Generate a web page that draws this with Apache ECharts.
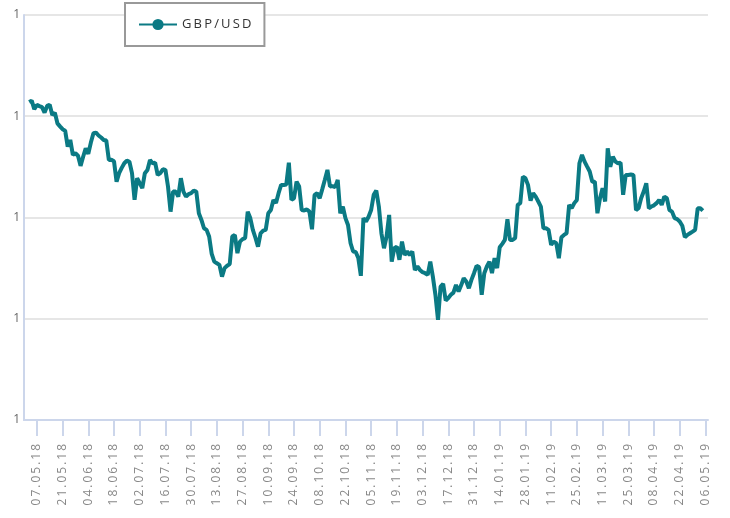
<!DOCTYPE html>
<html>
<head>
<meta charset="utf-8">
<script src="https://cdn.jsdelivr.net/npm/echarts@6/dist/echarts.min.js"></script>
<style>
  html, body { margin: 0; padding: 0; background: #fff; }
  #chart { width: 730px; height: 518px; }
</style>
</head>
<body>
<div id="chart"></div>
<script>
// weekday categories, 30.04.18 .. 07.05.19
const startDay = new Date(2018, 3, 30)
const dayCount = 267
// GBP/USD daily close (null = no quote shown)
const gbpUsd = [
  null, null, 1.3570, 1.3577, 1.3535, 1.3556, 1.3550, 1.3545, 1.3518, 1.3551,
  1.3557, 1.3506, 1.3518, 1.3465, 1.3450, 1.3436, 1.3429, 1.3350, 1.3383, 1.3309,
  1.3317, 1.3305, 1.3255, 1.3300, 1.3342, 1.3314, 1.3370, 1.3416, 1.3419, 1.3405,
  1.3395, 1.3383, 1.3380, 1.3284, 1.3285, 1.3278, 1.3177, 1.3219, 1.3245, 1.3268,
  1.3281, 1.3275, 1.3219, 1.3087, 1.3194, 1.3169, 1.3145, 1.3219, 1.3235, 1.3284,
  1.3268, 1.3271, 1.3210, 1.3219, 1.3238, 1.3235, 1.3153, 1.3029, 1.3128, 1.3128,
  1.3103, 1.3194, 1.3128, 1.3103, 1.3115, 1.3120, 1.3133, 1.3128, 1.3021, 1.2988,
  1.2947, 1.2939, 1.2906, 1.2820, 1.2782, 1.2774, 1.2766, 1.2708, 1.2750, 1.2762,
  1.2770, 1.2906, 1.2914, 1.2824, 1.2881, 1.2893, 1.2898, 1.3029, 1.2997, 1.2939,
  1.2900, 1.2856, 1.2922, 1.2935, 1.2939, 1.3021, 1.3037, 1.3087, 1.3071, 1.3120,
  1.3161, 1.3160, 1.3163, 1.3271, 1.3087, 1.3095, 1.3177, 1.3153, 1.3037, 1.3035,
  1.3040, 1.3029, 1.2942, 1.3112, 1.3120, 1.3095, 1.3140, 1.3186, 1.3235, 1.3153,
  1.3155, 1.3150, 1.3186, 1.3021, 1.3054, 1.2997, 1.2963, 1.2873, 1.2832, 1.2830,
  1.2800, 1.2712, 1.2997, 1.2980, 1.3004, 1.3037, 1.3112, 1.3133, 1.3054, 1.2922,
  1.2848, 1.2906, 1.3013, 1.2782, 1.2848, 1.2856, 1.2791, 1.2881, 1.2815, 1.2832,
  1.2815, 1.2832, 1.2741, 1.2758, 1.2741, 1.2730, 1.2725, 1.2717, 1.2782, 1.2708,
  1.2618, 1.2495, 1.2659, 1.2672, 1.2590, 1.2602, 1.2618, 1.2629, 1.2667, 1.2634,
  1.2665, 1.2700, 1.2684, 1.2651, 1.2692, 1.2725, 1.2761, 1.2755, 1.2618, 1.2725,
  1.2758, 1.2782, 1.2725, 1.2799, 1.2750, 1.2853, 1.2870, 1.2889, 1.2992, 1.2889,
  1.2889, 1.2898, 1.3062, 1.3071, 1.3202, 1.3194, 1.3161, 1.3083, 1.3120, 1.3103,
  1.3079, 1.3054, 1.2947, 1.2947, 1.2939, 1.2865, 1.2881, 1.2873, 1.2799, 1.2903,
  1.2914, 1.2922, 1.3062, 1.3046, 1.3071, 1.3087, 1.3268, 1.3309, 1.3276, 1.3251,
  1.3227, 1.3177, 1.3177, 1.3021, 1.3095, 1.3145, 1.3079, 1.3342, 1.3251, 1.3300,
  1.3276, 1.3268, 1.3271, 1.3112, 1.3210, 1.3210, 1.3212, 1.3210, 1.3037, 1.3046,
  1.3095, 1.3128, 1.3169, 1.3046, 1.3054, 1.3060, 1.3071, 1.3087, 1.3062, 1.3103,
  1.3095, 1.3037, 1.3029, 1.2997, 1.2992, 1.2980, 1.2959, 1.2903, 1.2914, 1.2922,
  1.2930, 1.2939, 1.3046, 1.3046, 1.3034, null, null
]
// a label every second Monday, first one on 07.05.18
const firstTick = 5
const tickStep = 10

const pad = n => String(n).padStart(2, '0')
const dates = []
const d = new Date(startDay)
while (dates.length < dayCount) {
  const wd = d.getDay()
  if (wd !== 0 && wd !== 6) {
    dates.push(pad(d.getDate()) + '.' + pad(d.getMonth() + 1) + '.' + String(d.getFullYear()).slice(2))
  }
  d.setDate(d.getDate() + 1)
}

const spaced = s => s.split('').join('\u2009')
const showTick = i => i >= firstTick && (i - firstTick) % tickStep === 0

const myChart = echarts.init(document.getElementById('chart'))
myChart.setOption({
  animation: false,
  grid: { left: 24, right: 22, top: 15, bottom: 98, containLabel: false },
  legend: {
    left: 125,
    top: 3,
    padding: [15, 13, 15, 13],
    borderColor: '#999',
    borderWidth: 2,
    backgroundColor: '#fff',
    itemWidth: 38,
    itemHeight: 14,
    itemGap: 10,
    textStyle: { color: '#333', fontSize: 13, fontFamily: 'Open Sans' },
    formatter: name => spaced(name),
    data: ['GBP/USD']
  },
  xAxis: {
    type: 'category',
    boundaryGap: false,
    data: dates,
    axisLine: { lineStyle: { color: '#ccd6eb', width: 2 } },
    axisTick: { interval: showTick, length: 16, lineStyle: { color: '#ccd6eb', width: 2 } },
    axisLabel: {
      interval: showTick,
      rotate: 90,
      margin: 24,
      color: '#888',
      fontSize: 12,
      fontFamily: 'Open Sans',
      formatter: v => spaced(v)
    },
    splitLine: { show: false }
  },
  yAxis: {
    type: 'value',
    min: 1.2,
    max: 1.4,
    interval: 0.05,
    axisLine: { show: true, lineStyle: { color: '#ccd6eb', width: 2 } },
    axisTick: { show: false },
    axisLabel: {
      color: '#666',
      fontSize: 12,
      fontFamily: 'Open Sans',
      margin: 4,
      formatter: v => v.toFixed(0)
    },
    splitLine: { lineStyle: { color: '#e6e6e6', width: 2 } }
  },
  series: [
    {
      name: 'GBP/USD',
      type: 'line',
      data: gbpUsd,
      symbol: 'circle',
      symbolSize: 12,
      showSymbol: false,
      itemStyle: { color: '#0b7a84' },
      lineStyle: { color: '#0b7a84', width: 4 }
    }
  ]
})
</script>
</body>
</html>
